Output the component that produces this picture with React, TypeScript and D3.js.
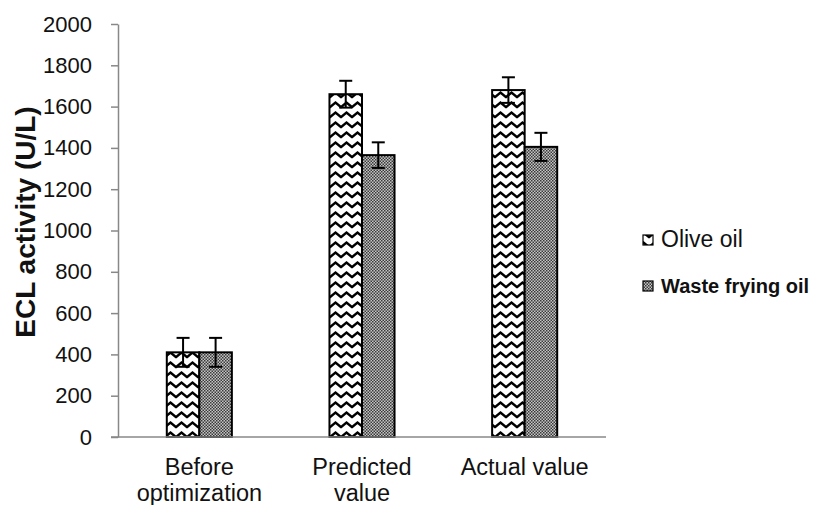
import React, { useEffect, useRef } from 'react';
import * as d3 from 'd3';

const categories = ['Before optimization', 'Predicted value', 'Actual value'];
const categoryLines = [['Before', 'optimization'], ['Predicted', 'value'], ['Actual value']];
const seriesNames = ['Olive oil', 'Waste frying oil'];
const oliveOil = [410, 1660, 1680];
const wasteFryingOil = [410, 1365, 1405];
const oliveErr = [70, 65, 62];
const wasteErr = [70, 62, 68];
const yTicks = [0, 200, 400, 600, 800, 1000, 1200, 1400, 1600, 1800, 2000];

const W = 824;
const H = 505;

const App = () => {
  const svgRef = useRef<SVGSVGElement | null>(null);

  useEffect(() => {
    if (!svgRef.current) return;
    const svg = d3.select(svgRef.current);
    svg.selectAll('*').remove();

    const font = '"Liberation Sans", Arial, sans-serif';
    const plot = { left: 118, right: 606, top: 24, bottom: 437 };

    // patterns
    const defs = svg.append('defs');
    const zig = defs
      .append('pattern')
      .attr('id', 'zigzag')
      .attr('patternUnits', 'userSpaceOnUse')
      .attr('width', 11)
      .attr('height', 10);
    zig.append('rect').attr('width', 11).attr('height', 10).attr('fill', '#fff');
    zig
      .append('path')
      .attr('d', 'M-0.5,7.5 L5.5,2.5 L11.5,7.5')
      .attr('fill', 'none')
      .attr('stroke', '#000')
      .attr('stroke-width', 2.4);

    const dots = defs
      .append('pattern')
      .attr('id', 'dots')
      .attr('patternUnits', 'userSpaceOnUse')
      .attr('width', 3)
      .attr('height', 3);
    dots.append('rect').attr('width', 3).attr('height', 3).attr('fill', '#c4c4c4');
    dots.append('rect').attr('width', 1.5).attr('height', 1.5).attr('fill', '#3a3a3a');
    dots.append('rect').attr('x', 1.5).attr('y', 1.5).attr('width', 1.5).attr('height', 1.5).attr('fill', '#3a3a3a');

    const fills = ['url(#zigzag)', 'url(#dots)'];
    const series = [oliveOil, wasteFryingOil];
    const errs = [oliveErr, wasteErr];

    const x = d3.scaleBand<string>().domain(categories).range([plot.left, plot.right]);
    const groupW = x.bandwidth() / 2.5;
    const xInner = d3.scaleBand<number>().domain([0, 1]).range([0, groupW]);
    const y = d3.scaleLinear().domain([0, 2000]).range([plot.bottom, plot.top]);

    // y axis
    const yAxis = svg
      .append('g')
      .attr('transform', `translate(${plot.left},0)`)
      .call(
        d3
          .axisLeft(y)
          .tickValues(yTicks)
          .tickFormat(d3.format('d'))
          .tickSize(7)
          .tickPadding(19)
          .tickSizeOuter(0),
      );
    yAxis.select('.domain').attr('stroke', '#888').attr('stroke-width', 1.5);
    yAxis.selectAll('.tick line').attr('stroke', '#888').attr('stroke-width', 1.5);
    yAxis
      .selectAll('.tick text')
      .attr('font-family', font)
      .attr('font-size', 22)
      .attr('fill', '#111');

    // bars
    categories.forEach((c, i) => {
      const gx = x(c)! + (x.bandwidth() - groupW) / 2;
      series.forEach((s, k) => {
        svg
          .append('rect')
          .attr('x', gx + xInner(k)!)
          .attr('y', y(s[i]))
          .attr('width', xInner.bandwidth())
          .attr('height', y(0) - y(s[i]))
          .attr('fill', fills[k])
          .attr('stroke', '#000')
          .attr('stroke-width', 2);
      });
    });

    // x axis
    svg
      .append('line')
      .attr('x1', plot.left - 7)
      .attr('x2', plot.right)
      .attr('y1', y(0))
      .attr('y2', y(0))
      .attr('stroke', '#888')
      .attr('stroke-width', 1.5);

    // error bars
    categories.forEach((c, i) => {
      const gx = x(c)! + (x.bandwidth() - groupW) / 2;
      series.forEach((s, k) => {
        const cx = gx + xInner(k)! + xInner.bandwidth() / 2;
        const hi = y(s[i] + errs[k][i]);
        const lo = y(s[i] - errs[k][i]);
        const g = svg.append('g').attr('stroke', '#000').attr('stroke-width', 2);
        g.append('line').attr('x1', cx).attr('x2', cx).attr('y1', hi).attr('y2', lo);
        g.append('line').attr('x1', cx - 6.5).attr('x2', cx + 6.5).attr('y1', hi).attr('y2', hi);
        g.append('line').attr('x1', cx - 6.5).attr('x2', cx + 6.5).attr('y1', lo).attr('y2', lo);
      });
    });

    // category labels
    categories.forEach((c, i) => {
      const cx = x(c)! + x.bandwidth() / 2;
      const t = svg
        .append('text')
        .attr('x', cx)
        .attr('y', 475)
        .attr('text-anchor', 'middle')
        .attr('font-family', font)
        .attr('font-size', 23.5)
        .attr('fill', '#111');
      categoryLines[i].forEach((ln, j) => {
        t.append('tspan')
          .attr('x', cx)
          .attr('dy', j === 0 ? 0 : 26)
          .text(ln);
      });
    });

    // y axis title
    svg
      .append('text')
      .attr('transform', `translate(35,222) rotate(-90)`)
      .attr('text-anchor', 'middle')
      .attr('font-family', font)
      .attr('font-size', 28)
      .attr('font-weight', 'bold')
      .attr('fill', '#111')
      .text('ECL activity (U/L)');

    // legend
    const legendY = [247, 293];
    const legendSize = [23, 20];
    seriesNames.forEach((name, k) => {
      svg
        .append('rect')
        .attr('x', 643)
        .attr('y', legendY[k] - 12)
        .attr('width', 10)
        .attr('height', 10)
        .attr('fill', fills[k])
        .attr('stroke', '#000')
        .attr('stroke-width', 1.2);
      svg
        .append('text')
        .attr('x', 661)
        .attr('y', legendY[k])
        .attr('font-family', font)
        .attr('font-size', legendSize[k])
        .attr('font-weight', k === 1 ? 'bold' : 'normal')
        .attr('fill', '#111')
        .text(name);
    });
  }, []);

  return (
    <svg
      ref={svgRef}
      width={W}
      height={H}
      style={{ position: 'absolute', left: 0, top: 0, background: '#fff' }}
    />
  );
};

export default App;
